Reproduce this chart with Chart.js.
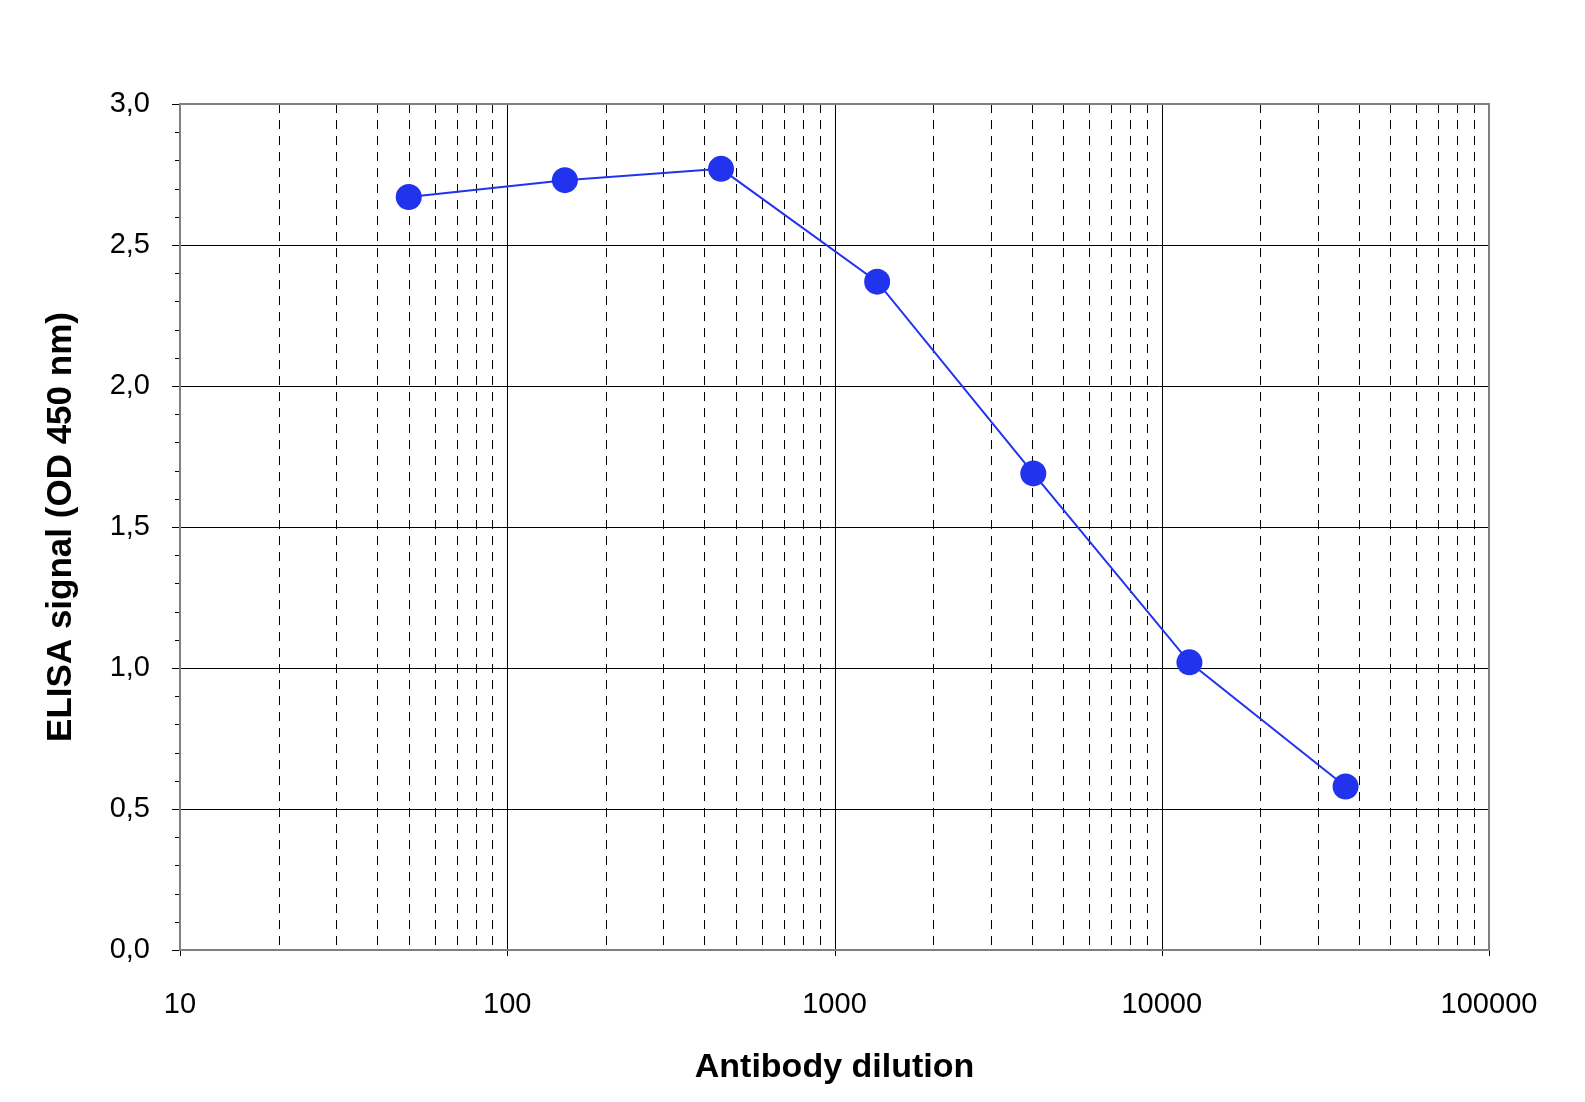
<!DOCTYPE html>
<html>
<head>
<meta charset="utf-8">
<script src="https://cdn.jsdelivr.net/npm/chart.js@4.4.1/dist/chart.umd.min.js"></script>
<style>
  html, body { margin: 0; padding: 0; background: #fff; }
  #wrap { width: 1585px; height: 1102px; }
</style>
</head>
<body>
<div id="wrap"><canvas id="chart"></canvas></div>
<script>
// Dilution series and measured OD values
const dilutions = [50, 150, 450, 1350, 4050, 12150, 36450];
const odValues = [2.67, 2.73, 2.77, 2.37, 1.69, 1.02, 0.58];
const xTickValues = [10, 100, 1000, 10000, 100000];
const yTickValues = [0, 0.5, 1, 1.5, 2, 2.5, 3];

// Custom grid: solid major lines, dashed minor log lines, minor y ticks
const gridPlugin = {
    id: 'elisaGrid',
    beforeDatasetsDraw(chart) {
        const { ctx, chartArea: a, scales: { x, y } } = chart;
        ctx.save();
        ctx.strokeStyle = '#000';
        ctx.lineWidth = 1;
        // vertical lines
        for (let d = 10; d < 100000; d *= 10) {
            for (let m = 1; m <= 9; m++) {
                const px = Math.round(x.getPixelForValue(d * m)) + 0.5;
                ctx.setLineDash(m === 1 ? [] : [9, 7]);
                ctx.beginPath();
                ctx.moveTo(px, a.top);
                ctx.lineTo(px, a.bottom);
                ctx.stroke();
            }
        }
        ctx.setLineDash([]);
        // horizontal major lines + ticks
        yTickValues.forEach(v => {
            const py = Math.round(y.getPixelForValue(v)) + 0.5;
            ctx.beginPath();
            ctx.moveTo(a.left - 8, py);
            ctx.lineTo(a.right, py);
            ctx.stroke();
        });
        for (let i = 1; i < 30; i++) {
            if (i % 5 === 0) continue;
            const py = Math.round(y.getPixelForValue(i / 10)) + 0.5;
            ctx.beginPath();
            ctx.moveTo(a.left - 5, py);
            ctx.lineTo(a.left, py);
            ctx.stroke();
        }
        // x major ticks below axis
        xTickValues.forEach(v => {
            const px = Math.round(x.getPixelForValue(v)) + 0.5;
            ctx.beginPath();
            ctx.moveTo(px, a.bottom);
            ctx.lineTo(px, a.bottom + 6);
            ctx.stroke();
        });
        // plot border
        ctx.strokeStyle = '#808080';
        ctx.lineWidth = 2;
        ctx.strokeRect(a.left, a.top, a.right - a.left, a.bottom - a.top);
        ctx.restore();
    }
};

const ctx = document.getElementById('chart').getContext('2d');
new Chart(ctx, {
    type: 'line',
    data: {
        datasets: [{
            data: dilutions.map((d, i) => ({ x: d, y: odValues[i] })),
            borderColor: '#2233ee',
            backgroundColor: '#2233ee',
            borderWidth: 2,
            pointRadius: 13,
            pointHoverRadius: 13,
            pointBorderWidth: 0,
            tension: 0
        }]
    },
    options: {
        responsive: true,
        maintainAspectRatio: false,
        animation: false,
        layout: { padding: { left: 36, top: 104, right: 96, bottom: 10 } },
        plugins: { legend: { display: false }, tooltip: { enabled: false } },
        scales: {
            x: {
                type: 'logarithmic',
                min: 10,
                max: 100000,
                grid: { display: false },
                border: { display: false },
                afterBuildTicks: s => { s.ticks = xTickValues.map(v => ({ value: v })); },
                afterFit: s => { s.height = 142; },
                ticks: {
                    autoSkip: false,
                    maxRotation: 0,
                    padding: 30,
                    color: '#000',
                    font: { family: 'Liberation Sans, Arial', size: 29 },
                    callback: v => String(v)
                },
                title: {
                    display: true,
                    text: 'Antibody dilution',
                    color: '#000',
                    font: { family: 'Liberation Sans, Arial', size: 34, weight: 'bold' },
                    padding: { top: 8 }
                }
            },
            y: {
                min: 0,
                max: 3,
                grid: { display: false },
                border: { display: false },
                afterBuildTicks: s => { s.ticks = yTickValues.map(v => ({ value: v })); },
                afterFit: s => { s.width = 144; },
                ticks: {
                    padding: 22,
                    color: '#000',
                    font: { family: 'Liberation Sans, Arial', size: 29 },
                    callback: v => v.toFixed(1).replace('.', ',')
                },
                title: {
                    display: true,
                    text: 'ELISA signal (OD 450 nm)',
                    color: '#000',
                    font: { family: 'Liberation Sans, Arial', size: 35, weight: 'bold' },
                    padding: { bottom: 4 }
                }
            }
        }
    },
    plugins: [gridPlugin]
});
</script>
</body>
</html>
